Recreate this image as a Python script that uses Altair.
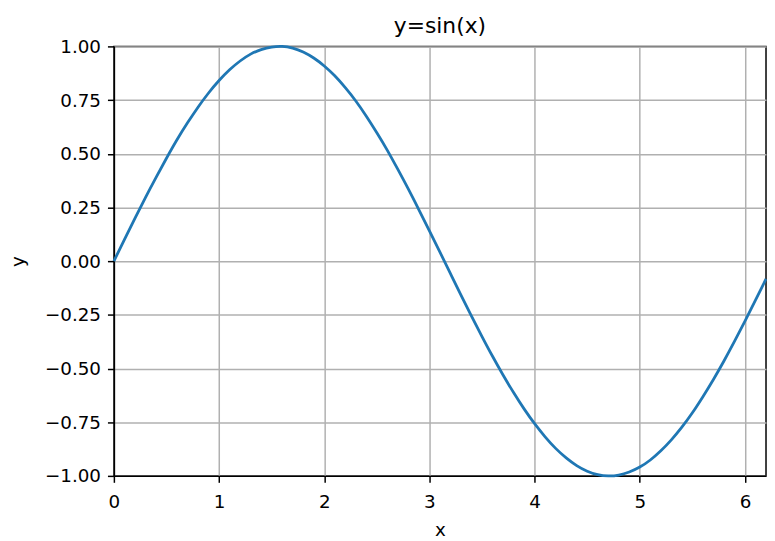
import altair as alt
import pandas as pd

x_vals = [0.0, 0.1, 0.2, 0.3, 0.4, 0.5, 0.6, 0.7, 0.8, 0.9,
          1.0, 1.1, 1.2, 1.3, 1.4, 1.5, 1.6, 1.7, 1.8, 1.9,
          2.0, 2.1, 2.2, 2.3, 2.4, 2.5, 2.6, 2.7, 2.8, 2.9,
          3.0, 3.1, 3.2, 3.3, 3.4, 3.5, 3.6, 3.7, 3.8, 3.9,
          4.0, 4.1, 4.2, 4.3, 4.4, 4.5, 4.6, 4.7, 4.8, 4.9,
          5.0, 5.1, 5.2, 5.3, 5.4, 5.5, 5.6, 5.7, 5.8, 5.9,
          6.0, 6.1, 6.2]
y_vals = [0.000, 0.100, 0.199, 0.296, 0.389, 0.479, 0.565, 0.644, 0.717, 0.783,
          0.841, 0.891, 0.932, 0.964, 0.985, 0.997, 1.000, 0.992, 0.974, 0.946,
          0.909, 0.863, 0.808, 0.746, 0.675, 0.598, 0.516, 0.427, 0.335, 0.239,
          0.141, 0.042, -0.058, -0.158, -0.256, -0.351, -0.443, -0.530, -0.612, -0.688,
          -0.757, -0.818, -0.872, -0.916, -0.952, -0.978, -0.994, -1.000, -0.996, -0.982,
          -0.959, -0.926, -0.883, -0.832, -0.773, -0.706, -0.631, -0.551, -0.465, -0.374,
          -0.279, -0.182, -0.083]
x_ticks = [0, 1, 2, 3, 4, 5, 6]
y_ticks = [-1.0, -0.75, -0.5, -0.25, 0.0, 0.25, 0.5, 0.75, 1.0]

df = pd.DataFrame({"x": x_vals, "y": y_vals})

FONT = "DejaVu Sans"

chart = alt.Chart(df).mark_line(color="#1f77b4", strokeWidth=2.8, interpolate="natural").encode(
    x=alt.X("x:Q", scale=alt.Scale(domain=[0, 6.2], nice=False, zero=False),
            axis=alt.Axis(title="x", values=x_ticks, format="d",
                          labelPadding=10, titlePadding=10)),
    y=alt.Y("y:Q", scale=alt.Scale(domain=[-1, 1], nice=False, zero=False),
            axis=alt.Axis(title="y", values=y_ticks, format=".2f",
                          labelPadding=7, titlePadding=17)),
).properties(
    width=659,
    height=434,
    title=alt.TitleParams("y=sin(x)", font=FONT, fontSize=22, fontWeight="normal",
                          color="black", anchor="middle", offset=6, frame="group",
                          baseline="bottom", dy=28),
    autosize=alt.AutoSizeParams(type="none"),
    padding={"left": 107, "top": 36, "right": 1, "bottom": 63},
    background="white",
).configure_view(
    stroke="black", strokeWidth=1.5
).configure_axis(
    grid=True, gridColor="#b0b0b0", gridWidth=1.5,
    domainColor="black", domainWidth=1.5,
    tickColor="black", tickWidth=1.5, tickSize=6.5,
    labelFont=FONT, labelFontSize=18.5, labelColor="black",
    titleFont=FONT, titleFontSize=18.5, titleFontWeight="normal", titleColor="black",
    labelFlush=False,
)

chart.save("out.html", embed_options={"renderer": "svg", "actions": False})
